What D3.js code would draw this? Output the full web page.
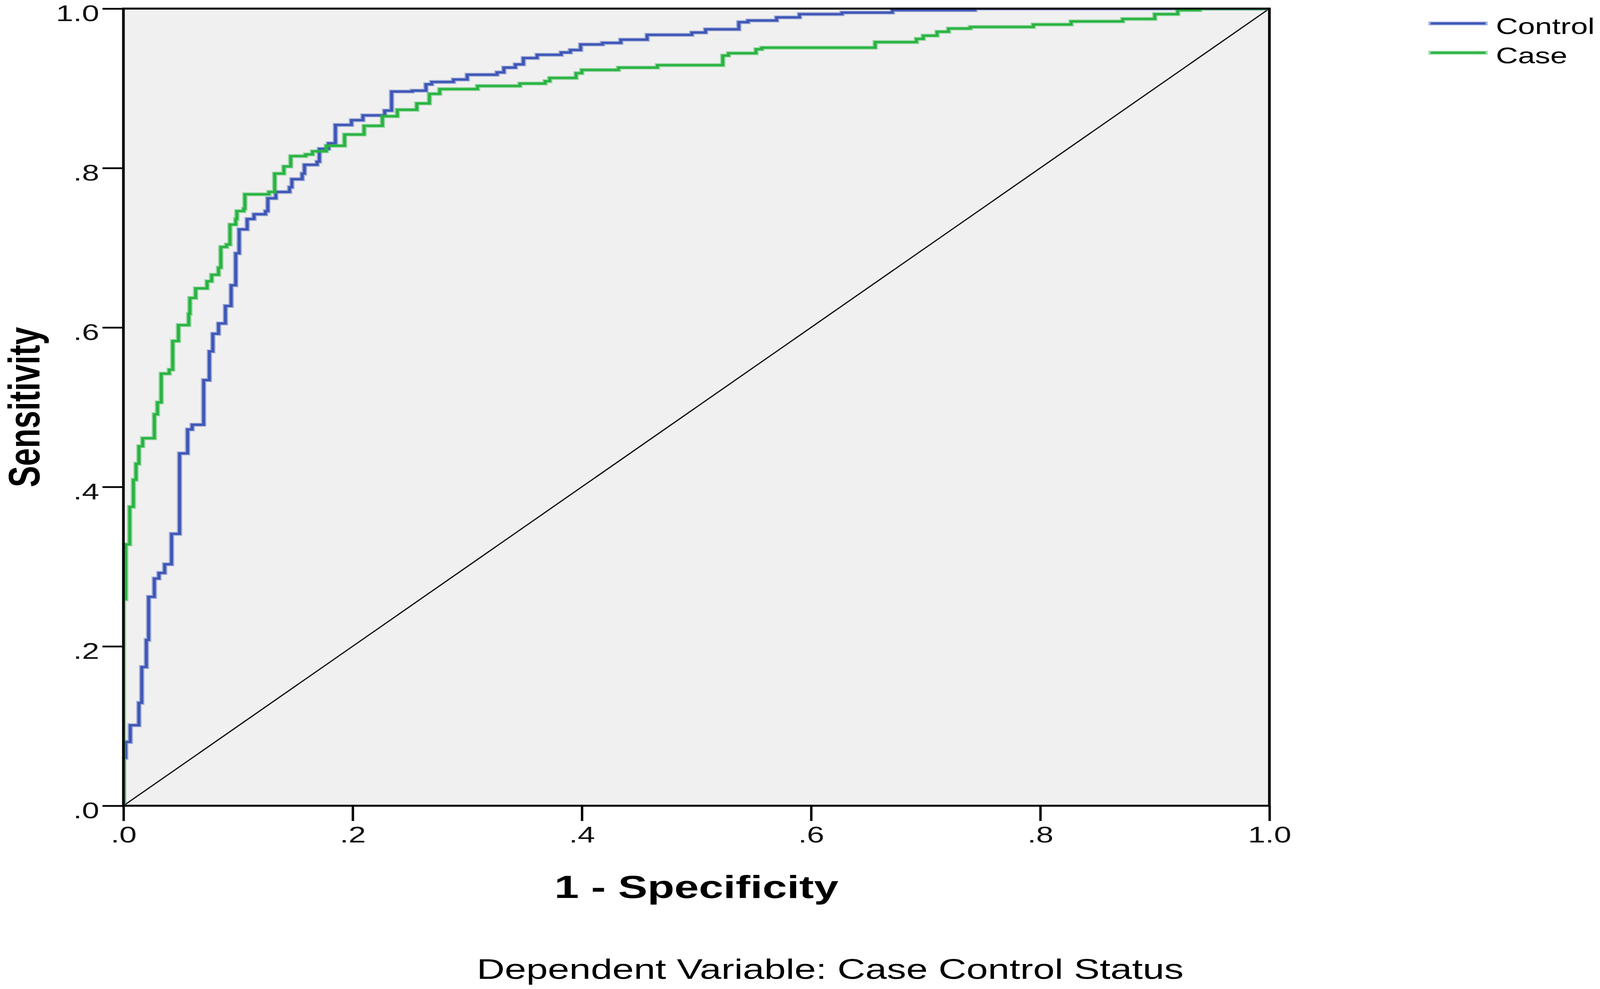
<!DOCTYPE html>
<html>
<head>
<meta charset="utf-8">
<script src="https://cdn.jsdelivr.net/npm/d3@7"></script>
<style>
  html, body { margin: 0; padding: 0; background: #fff; overflow: hidden; }
  svg { display: block; width: 100vw; height: 100vh; }
</style>
</head>
<body>
<div id="chart"></div>
<script>
'use strict';

// ROC points [1 - specificity, sensitivity]
var controlRoc = [
  [0, 0], [0, 0.060], [0.002, 0.080], [0.006, 0.101], [0.0135, 0.129], [0.016, 0.174],
  [0.020, 0.208], [0.022, 0.262], [0.027, 0.285], [0.031, 0.292], [0.036, 0.303],
  [0.042, 0.341], [0.049, 0.442], [0.056, 0.472], [0.060, 0.478], [0.070, 0.534],
  [0.075, 0.570], [0.078, 0.592], [0.083, 0.605], [0.089, 0.627], [0.094, 0.653],
  [0.098, 0.693], [0.101, 0.723], [0.108, 0.736], [0.114, 0.742], [0.124, 0.746],
  [0.126, 0.762], [0.133, 0.770], [0.145, 0.776], [0.147, 0.786], [0.156, 0.793],
  [0.158, 0.804], [0.169, 0.808], [0.171, 0.824], [0.179, 0.831], [0.185, 0.854],
  [0.199, 0.860], [0.209, 0.866], [0.228, 0.872], [0.234, 0.896], [0.252, 0.897],
  [0.264, 0.905], [0.269, 0.908], [0.288, 0.911], [0.300, 0.917], [0.326, 0.920],
  [0.332, 0.926], [0.342, 0.930], [0.349, 0.938], [0.361, 0.942], [0.382, 0.945],
  [0.390, 0.948], [0.399, 0.955], [0.418, 0.957], [0.434, 0.961], [0.457, 0.967],
  [0.496, 0.970], [0.508, 0.974], [0.537, 0.983], [0.545, 0.985], [0.570, 0.989],
  [0.590, 0.993], [0.627, 0.995], [0.671, 0.998], [0.743, 1.0], [1.0, 1.0]
];

var caseRoc = [
  [0, 0], [0, 0.259], [0.002, 0.328], [0.0055, 0.375], [0.0087, 0.409], [0.011, 0.429],
  [0.0135, 0.451], [0.0168, 0.461], [0.027, 0.491], [0.0297, 0.506], [0.033, 0.542],
  [0.040, 0.547], [0.043, 0.583], [0.048, 0.603], [0.057, 0.617], [0.058, 0.637],
  [0.063, 0.649], [0.073, 0.658], [0.077, 0.666], [0.083, 0.675], [0.085, 0.701],
  [0.090, 0.704], [0.093, 0.729], [0.098, 0.736], [0.099, 0.746], [0.105, 0.749],
  [0.106, 0.767], [0.127, 0.770], [0.132, 0.793], [0.140, 0.802], [0.146, 0.815],
  [0.159, 0.817], [0.165, 0.821], [0.177, 0.828], [0.193, 0.842], [0.210, 0.853],
  [0.226, 0.865], [0.239, 0.873], [0.256, 0.881], [0.267, 0.893], [0.276, 0.899],
  [0.309, 0.903], [0.346, 0.906], [0.368, 0.909], [0.372, 0.913], [0.395, 0.919],
  [0.400, 0.923], [0.432, 0.926], [0.466, 0.929], [0.523, 0.941], [0.528, 0.944],
  [0.552, 0.949], [0.557, 0.951], [0.656, 0.958], [0.692, 0.962], [0.698, 0.966],
  [0.710, 0.971], [0.720, 0.975], [0.739, 0.977], [0.794, 0.980], [0.827, 0.984],
  [0.872, 0.987], [0.900, 0.993], [0.920, 0.998], [0.939, 1.0], [1.0, 1.0]
];

var referenceLine = [[0, 0], [1, 1]];

var seriesNames = ['Control', 'Case'];
var seriesColors = ['#3d56b6', '#27b341'];
var tickValues = [0, 0.2, 0.4, 0.6, 0.8, 1.0];
var tickLabels = ['.0', '.2', '.4', '.6', '.8', '1.0'];

var xTitle = '1 - Specificity';
var yTitle = 'Sensitivity';
var caption = 'Dependent Variable: Case Control Status';

(function () {
  // the source picture is stretched sideways, so draw narrow and let the viewBox stretch it
  var W = 4317, H = 2531, SX = 1.45;
  var w = W / SX;
  var left = 333 / SX, right = 3425 / SX, top = 22, bottom = 2062;
  var font = '"Liberation Sans", Arial, sans-serif';

  var svg = d3.select('#chart').append('svg')
    .attr('viewBox', '0 0 ' + w + ' ' + H)
    .attr('preserveAspectRatio', 'none');

  var x = d3.scaleLinear().domain([0, 1]).range([left, right]);
  var y = d3.scaleLinear().domain([0, 1]).range([bottom, top]);

  svg.append('defs').append('clipPath').attr('id', 'plotClip')
    .append('rect')
    .attr('x', x(0)).attr('y', y(1))
    .attr('width', x(1) - x(0)).attr('height', y(0) - y(1));

  // plot background
  svg.append('rect')
    .attr('x', x(0)).attr('y', y(1))
    .attr('width', x(1) - x(0)).attr('height', y(0) - y(1))
    .attr('fill', '#f0f0f0');

  // diagonal reference
  var straight = d3.line().x(function (d) { return x(d[0]); }).y(function (d) { return y(d[1]); });
  svg.append('path')
    .datum(referenceLine)
    .attr('d', straight)
    .attr('fill', 'none')
    .attr('stroke', '#111')
    .attr('stroke-width', 2.8);

  // ROC step curves
  var step = d3.line()
    .x(function (d) { return x(d[0]); })
    .y(function (d) { return y(d[1]); })
    .curve(d3.curveStepAfter);

  var curves = svg.append('g').attr('clip-path', 'url(#plotClip)');
  [controlRoc, caseRoc].forEach(function (pts, i) {
    curves.append('path')
      .datum(pts)
      .attr('d', step)
      .attr('fill', 'none')
      .attr('stroke', seriesColors[i])
      .attr('stroke-opacity', 0.45)
      .attr('stroke-width', 10);
    curves.append('path')
      .datum(pts)
      .attr('d', step)
      .attr('fill', 'none')
      .attr('stroke', seriesColors[i])
      .attr('stroke-width', 5.5);
  });

  // frame
  svg.append('rect')
    .attr('x', x(0)).attr('y', y(1))
    .attr('width', x(1) - x(0)).attr('height', y(0) - y(1))
    .attr('fill', 'none')
    .attr('stroke', '#000')
    .attr('stroke-width', 5);

  var fmt = function (d) { return tickLabels[tickValues.indexOf(d)]; };

  var xAxis = svg.append('g')
    .attr('transform', 'translate(0,' + y(0) + ')')
    .call(d3.axisBottom(x).tickValues(tickValues).tickFormat(fmt)
      .tickSize(39).tickSizeOuter(0).tickPadding(14));

  var yAxis = svg.append('g')
    .attr('transform', 'translate(' + x(0) + ',0)')
    .call(d3.axisLeft(y).tickValues(tickValues).tickFormat(fmt)
      .tickSize(39).tickSizeOuter(0).tickPadding(6));

  [xAxis, yAxis].forEach(function (ax) {
    ax.select('.domain').remove();
    ax.selectAll('.tick line').attr('stroke', '#000').attr('stroke-width', 4.5);
    ax.selectAll('.tick text')
      .attr('font-family', font)
      .attr('font-size', 58)
      .attr('fill', '#111');
  });
  yAxis.selectAll('.tick text').attr('dy', '0.55em');

  // titles
  svg.append('text')
    .attr('x', (x(0) + x(1)) / 2)
    .attr('y', 2298)
    .attr('text-anchor', 'middle')
    .attr('font-family', font)
    .attr('font-weight', 'bold')
    .attr('font-size', 82)
    .attr('fill', '#000')
    .text(xTitle);

  svg.append('text')
    .attr('transform', 'translate(' + (106 / SX) + ',' + ((y(0) + y(1)) / 2) + ') rotate(-90)')
    .attr('text-anchor', 'middle')
    .attr('font-family', font)
    .attr('font-weight', 'bold')
    .attr('font-size', 82)
    .attr('fill', '#000')
    .text(yTitle);

  svg.append('text')
    .attr('x', 2240 / SX)
    .attr('y', 2505)
    .attr('text-anchor', 'middle')
    .attr('font-family', font)
    .attr('font-size', 72)
    .attr('fill', '#000')
    .text(caption);

  // legend
  var legend = svg.append('g').selectAll('g')
    .data(seriesNames)
    .enter().append('g')
    .attr('transform', function (d, i) { return 'translate(0,' + (60 + i * 75) + ')'; });

  legend.append('line')
    .attr('x1', 3854 / SX).attr('x2', 4014 / SX)
    .attr('y1', 0).attr('y2', 0)
    .attr('stroke', function (d, i) { return seriesColors[i]; })
    .attr('stroke-width', 10)
    .attr('stroke-opacity', 0.45);
  legend.append('line')
    .attr('x1', 3860 / SX).attr('x2', 4008 / SX)
    .attr('y1', 0).attr('y2', 0)
    .attr('stroke', function (d, i) { return seriesColors[i]; })
    .attr('stroke-width', 5.5);

  legend.append('text')
    .attr('x', 4036 / SX)
    .attr('y', 27)
    .attr('font-family', font)
    .attr('font-size', 57)
    .attr('fill', '#000')
    .text(function (d) { return d; });
})();
</script>
</body>
</html>
